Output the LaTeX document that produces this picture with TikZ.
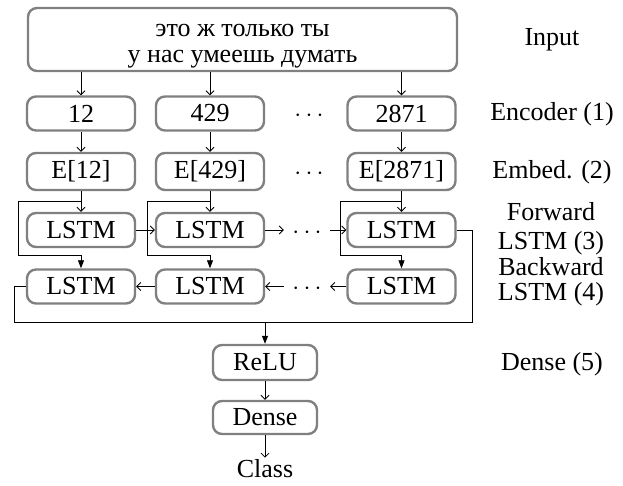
\documentclass[tikz,border=0pt]{standalone}
\usepackage{fontspec}
\setmainfont{Liberation Serif}
\usetikzlibrary{arrows.meta}
\definecolor{boxgray}{HTML}{808080}
\begin{document}
\begin{tikzpicture}[x=1pt,y=-1pt,
  font=\fontsize{26}{26}\selectfont,
  box/.style={draw=boxgray, line width=2.4pt, rounded corners=9pt,
    minimum width=108pt, minimum height=34pt, inner sep=0pt},
  lbl/.style={inner sep=0pt, anchor=base},
  dotsnode/.style={inner sep=0pt, minimum width=46pt},
  conn/.style={draw=black, line width=0.8pt,
    -{Straight Barb[length=4pt,width=8pt,line width=0.8pt]}},
  wire/.style={draw=black, line width=0.8pt},
  fillconn/.style={draw=black, line width=0.8pt,
    -{Triangle[length=8pt,width=6pt]}}]
\useasboundingbox (0,0) rectangle (623,486);

% input sentence
\node[box, minimum width=429pt, minimum height=63pt] (in) at (242.5,39.5) {};
\node[inner sep=0pt, align=center] (sent) at (242.5,46)
  {это ж только ты\\у нас умеешь думать};

% token ids
\node[box] (t1) at (81,113.5) {12};
\node[box] (t2) at (210,113.5) {429};
\node[box] (t3) at (401.5,113.5) {2871};
\node[dotsnode] (dt) at (309,116) {$\cdots$};

% embeddings
\node[box, minimum height=37pt] (e1) at (81,171.5) {E[12]};
\node[box, minimum height=37pt] (e2) at (210,171.5) {E[429]};
\node[box, minimum height=37pt] (e3) at (401.5,171.5) {E[2871]};
\node[dotsnode] (de) at (309,174) {$\cdots$};

% forward LSTM
\node[box] (f1) at (81,230) {LSTM};
\node[box] (f2) at (210,230) {LSTM};
\node[box] (f3) at (401.5,230) {LSTM};
\node[dotsnode] (df) at (307,232.5) {$\cdots$};

% backward LSTM
\node[box] (b1) at (81,286.5) {LSTM};
\node[box] (b2) at (210,286.5) {LSTM};
\node[box] (b3) at (401.5,286.5) {LSTM};
\node[dotsnode] (db) at (307,289) {$\cdots$};

% head
\node[box, minimum width=104pt, minimum height=35pt] (relu) at (265,362.5) {ReLU};
\node[box, minimum width=104pt, minimum height=33pt] (dense) at (265,417.5) {Dense};
\node[inner sep=2pt] (cls) at (265,469) {Class};

% layer names
\node[lbl] (lin) at (552,46) {Input};
\node[lbl] (lenc) at (552,121) {Encoder (1)};
\node[lbl] (lemb) at (552,179) {Embed. (2)};
\node[lbl] (lfw1) at (551,220.5) {Forward};
\node[lbl] (lfw2) at (551,250) {LSTM (3)};
\node[lbl] (lbw1) at (551,275) {Backward};
\node[lbl] (lbw2) at (551,300) {LSTM (4)};
\node[lbl] (lden) at (552,370) {Dense (5)};

% sentence -> ids -> embeddings -> forward LSTM
\foreach \i in {1,2,3} {
  \draw[conn] (t\i.north |- in.south) -- (t\i.north);
  \draw[conn] (t\i.south) -- (e\i.north);
  \draw[conn] (e\i.south) -- (f\i.north);
}

% embeddings also feed the backward LSTM
\coordinate (k1) at (18,201);   \coordinate (k1b) at (18,255);
\coordinate (k2) at (147,201);  \coordinate (k2b) at (147,255);
\coordinate (k3) at (340,201);  \coordinate (k3b) at (340,255);
\foreach \i in {1,2,3} {
  \draw[fillconn] (e\i.south |- k\i) -- (k\i) -- (k\i b)
    -- (b\i.north |- k\i b) -- (b\i.north);
}

% recurrent links
\draw[conn] (f1.east) -- (f2.west);
\draw[conn] (f2.east) -- (df.west |- f2.east);
\draw[conn] (df.east |- f3.west) -- (f3.west);
\draw[conn] (b2.west) -- (b1.east);
\draw[conn] (db.west |- b2.east) -- (b2.east);
\draw[conn] (b3.west) -- (db.east |- b3.west);

% concatenation into the dense head
\coordinate (m) at (265,322);
\coordinate (oL) at (14,322);
\coordinate (oR) at (472,322);
\draw[wire] (b1.west) -| (oL) -- (m);
\draw[wire] (f3.east) -| (oR) -- (m);
\draw[fillconn] (m) -- (relu.north);
\draw[conn] (relu.south) -- (dense.north);
\draw[conn] (dense.south) -- (cls.north);
\end{tikzpicture}
\end{document}
